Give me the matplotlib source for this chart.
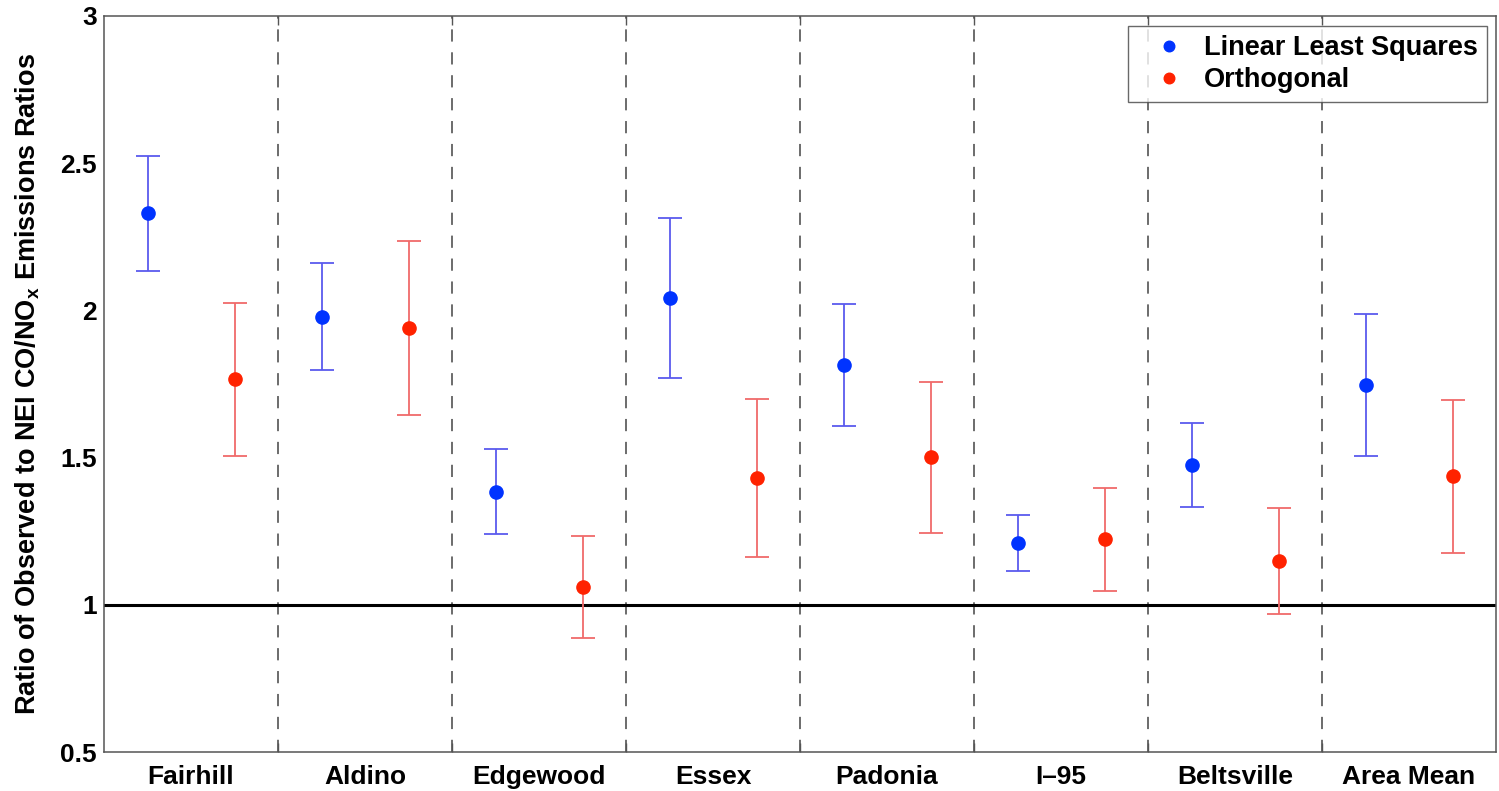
import matplotlib
matplotlib.use("Agg")
import matplotlib.pyplot as plt
import numpy as np

# Sites and fitted ratios (observed / NEI CO:NOx), with lower and upper bounds
sites = ["Fairhill", "Aldino", "Edgewood", "Essex", "Padonia", "I\u201395",
         "Beltsville", "Area Mean"]

lls_value = [2.331, 1.979, 1.383, 2.041, 1.813, 1.210, 1.474, 1.748]
lls_low   = [2.134, 1.799, 1.239, 1.770, 1.607, 1.114, 1.331, 1.506]
lls_high  = [2.524, 2.160, 1.528, 2.313, 2.022, 1.306, 1.618, 1.987]

orth_value = [1.767, 1.941, 1.060, 1.432, 1.501, 1.222, 1.149, 1.438]
orth_low   = [1.506, 1.646, 0.887, 1.161, 1.243, 1.048, 0.968, 1.177]
orth_high  = [2.025, 2.237, 1.234, 1.700, 1.758, 1.398, 1.330, 1.697]

y_ticks = [0.5, 1, 1.5, 2, 2.5, 3]
y_tick_labels = ["0.5", "1", "1.5", "2", "2.5", "3"]

plt.rcParams["font.family"] = ["Liberation Sans", "DejaVu Sans"]
plt.rcParams["font.weight"] = "bold"
plt.rcParams["mathtext.fontset"] = "custom"
plt.rcParams["mathtext.rm"] = "Liberation Sans:bold"
plt.rcParams["mathtext.bf"] = "Liberation Sans:bold"
plt.rcParams["mathtext.it"] = "Liberation Sans:bold"

fig = plt.figure(figsize=(14.99, 7.91), dpi=100)
ax = fig.add_axes([0.0694, 0.0493, 0.9286, 0.9305])

x = np.arange(1, len(sites) + 1)
offset = 0.25

blue_dot, blue_bar = "#0033ff", "#5a5aee"
red_dot, red_bar = "#ff2200", "#f06a6a"

lls_v = np.array(lls_value)
orth_v = np.array(orth_value)
lls_err = [lls_v - np.array(lls_low), np.array(lls_high) - lls_v]
orth_err = [orth_v - np.array(orth_low), np.array(orth_high) - orth_v]

ax.errorbar(x - offset, lls_v, yerr=lls_err, fmt="none", ecolor=blue_bar,
            elinewidth=1.3, capsize=8.6, capthick=1.3, zorder=3)
ax.errorbar(x + offset, orth_v, yerr=orth_err, fmt="none", ecolor=red_bar,
            elinewidth=1.3, capsize=8.6, capthick=1.3, zorder=3)
ax.plot(x - offset, lls_v, "o", color=blue_dot, markersize=9.5,
        label="Linear Least Squares", zorder=4)
ax.plot(x + offset, orth_v, "o", color=red_dot, markersize=9.5,
        label="Orthogonal", zorder=4)

# site separators and the 1:1 reference line
for xs in x[:-1] + 0.5:
    ax.axvline(xs, color="#444444", linewidth=1.1, linestyle=(0, (8, 7)), zorder=1)
ax.axhline(1.0, color="black", linewidth=2.2, zorder=2)

ax.set_xlim(0.5, len(sites) + 0.5)
ax.set_ylim(0.5, 3)

ax.set_xticks(x[:-1] + 0.5)
ax.set_xticklabels([])
ax.set_xticks(x, minor=True)
ax.set_xticklabels(sites, minor=True, fontsize=19, fontweight="bold")
ax.tick_params(axis="x", which="major", direction="in", length=6.5,
               top=True, bottom=True, color="#555555", width=1.0)
ax.tick_params(axis="x", which="minor", length=0, pad=9)

ax.set_yticks(y_ticks)
ax.set_yticklabels(y_tick_labels, fontsize=19, fontweight="bold")
ax.tick_params(axis="y", length=0, pad=5)

ax.set_ylabel(r"Ratio of Observed to NEI CO/NO$_{\mathbf{x}}$ Emissions Ratios",
              fontsize=19.5, fontweight="bold", labelpad=13)

for s in ax.spines.values():
    s.set_color("#555555")
    s.set_linewidth(1.1)

leg = ax.legend(loc="upper right", bbox_to_anchor=(0.9936, 0.986),
                fontsize=19.5, frameon=True, fancybox=False, handlelength=2.35,
                handletextpad=0.12, borderpad=0.33, labelspacing=0.22,
                markerscale=0.8, borderaxespad=0)
leg.get_frame().set_edgecolor("#444444")
leg.get_frame().set_linewidth(1.0)
for t in leg.get_texts():
    t.set_fontweight("bold")

fig.savefig("out.png", dpi=100)
